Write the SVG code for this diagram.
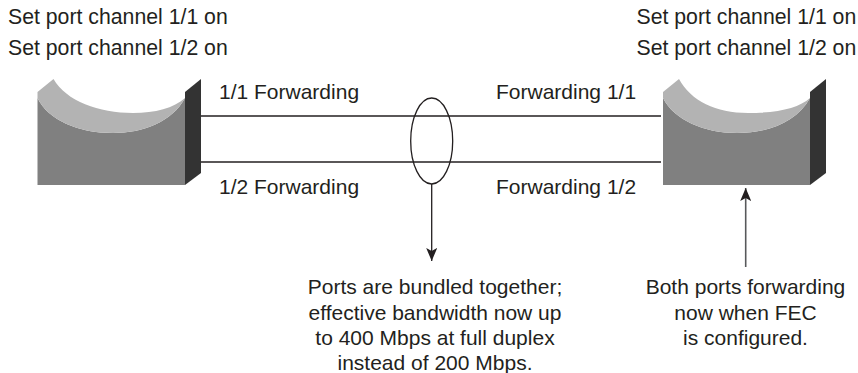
<svg xmlns="http://www.w3.org/2000/svg" width="858" height="373" viewBox="0 0 858 373">
<style>
text{font-family:"Liberation Sans",Arial,sans-serif;font-size:21px;fill:#231f20}
.s{font-size:21.25px}
.m{text-anchor:middle}
.front{fill:#808080}.top{fill:#b3b3b3}.side{fill:#333333}
.l{stroke:#231f20;stroke-width:1.3;fill:none}
.g{stroke:#58595b;stroke-width:1.6;fill:none}
</style>
<defs>
<marker id="ah" viewBox="0 0 13 11" refX="13" refY="5.5" markerUnits="userSpaceOnUse" markerWidth="13" markerHeight="11" orient="auto"><path d="M0 0L13 5.5L0 11L3 5.5Z" fill="#231f20"/></marker>
</defs>
<rect width="858" height="373" fill="#fff"/>
<g id="connectors">
<path class="l" d="M201 116H661"/>
<path class="l" d="M201 162H661"/>
<path class="l" d="M431.7 184V261" marker-end="url(#ah)"/>
<path class="g" d="M745.7 267V188" marker-end="url(#ah)"/>
</g>
<g id="switch-left">
<path class="front" d="M37.5 98C48 120 78 133 113 133C143 133 172 122 185 98V185H37.5Z"/>
<path class="top" d="M37.5 92L53.5 79C66 101 99 113 133 113C155 113 174 108 185 98C172 122 143 133 113 133C78 133 48 120 37.5 98Z"/>
<path class="side" d="M185 92L201 79V173L185 185Z"/>
</g>
<g id="switch-right">
<path class="front" d="M663 98C674 120 704 133 737 133C768 133 797 122 810 98V185H663Z"/>
<path class="top" d="M663 92L679 79C691 101 716 113 748 113C778 113 799 108 810 98C797 122 768 133 737 133C704 133 674 120 663 98Z"/>
<path class="side" d="M810 92L826 79V173L810 185Z"/>
</g>
<g id="bundle"><ellipse class="l" cx="431.7" cy="141" rx="21" ry="43"/></g>
<g id="labels">
<text class="s" x="8" y="24">Set port channel 1/1 on</text>
<text class="s" x="8" y="54.5">Set port channel 1/2 on</text>
<text class="s" x="636.5" y="24">Set port channel 1/1 on</text>
<text class="s" x="636.5" y="54.5">Set port channel 1/2 on</text>
<text x="219" y="99">1/1 Forwarding</text>
<text x="219" y="194">1/2 Forwarding</text>
<text x="496" y="99">Forwarding 1/1</text>
<text x="496" y="194">Forwarding 1/2</text>
<text class="m" x="435" y="294">Ports are bundled together;</text>
<text class="m" x="435" y="320">effective bandwidth now up</text>
<text class="m" x="435" y="345">to 400 Mbps at full duplex</text>
<text class="m" x="435" y="370">instead of 200 Mbps.</text>
<text class="m" x="745.5" y="294">Both ports forwarding</text>
<text class="m" x="745.5" y="320">now when FEC</text>
<text class="m" x="745.5" y="345">is configured.</text>
</g>
</svg>
